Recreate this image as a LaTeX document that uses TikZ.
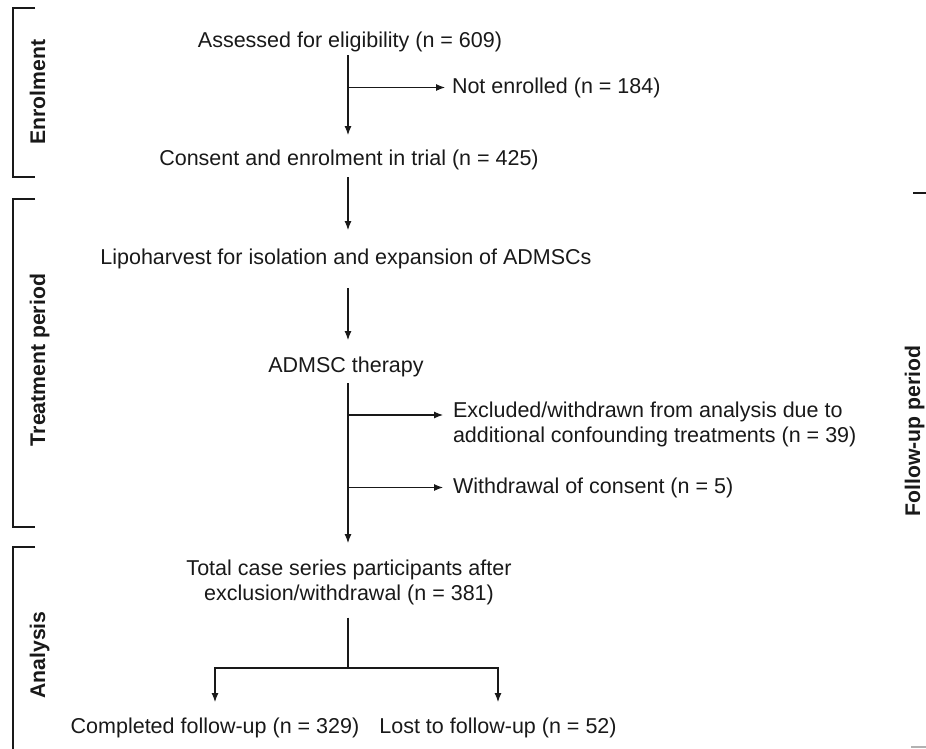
\documentclass[tikz,border=0pt]{standalone}
\usepackage{fontspec}
\setmainfont{Liberation Sans}
\usetikzlibrary{arrows.meta}

\begin{document}
\begin{tikzpicture}
    [
        x=1pt, y=-1pt,
        basic/.style = {inner sep=0pt, outer sep=0pt, text=black!90, font=\fontsize{21.5}{25}\selectfont},
        txt/.style = {basic, text height=15.5pt, text depth=4.5pt},
        phase/.style = {basic, rotate=90, anchor=base, font=\fontsize{21.2}{25}\selectfont\bfseries},
        line/.style = {line width=1.1pt, black!90},
        >={Latex[length=9pt, width=7pt]}
    ]
    \useasboundingbox (0,0) rectangle (926,748);

    \node [txt, anchor=base] (assess) at (350,47) {Assessed for eligibility (n = 609)};
    \node [txt, anchor=base] (consent) at (349,165) {Consent and enrolment in trial (n = 425)};
    \node [txt, anchor=base] (lipo) at (346,264) {Lipoharvest for isolation and expansion of ADMSCs};
    \node [txt, anchor=base] (admsc) at (346,372) {ADMSC therapy};
    \node [basic, align=center, anchor=north] (total) at (349,560) {Total case series participants after\\exclusion/withdrawal (n = 381)};
    \node [txt, anchor=base] (comp) at (215,733) {Completed follow-up (n = 329)};
    \node [txt, anchor=base] (lost) at (498,733) {Lost to follow-up (n = 52)};

    \node [txt, anchor=base west] (notenr) at (452,93) {Not enrolled (n = 184)};
    \node [basic, align=left, anchor=north west] (excl) at (453,402) {Excluded/withdrawn from analysis due to\\additional confounding treatments (n = 39)};
    \node [txt, anchor=base west] (wdraw) at (453,493) {Withdrawal of consent (n = 5)};

    \coordinate (trunk) at (348,0);
    \draw [line, ->, shorten <=3.5pt, shorten >=14.5pt] (assess.south -| trunk) -- (consent.north -| trunk);
    \draw [line, ->, shorten <=7.5pt, shorten >=18.5pt] (consent.south -| trunk) -- (lipo.north -| trunk);
    \draw [line, ->, shorten <=19.5pt, shorten >=16.5pt] (lipo.south -| trunk) -- (admsc.north -| trunk);
    \draw [line, ->, shorten <=6.5pt, shorten >=17pt] (admsc.south -| trunk) -- (total.north -| trunk);

    \coordinate (split) at (348,668);
    \draw [line, shorten <=12.5pt] (total.south -| trunk) -- (split);
    \draw [line, ->, shorten >=15.5pt] (split) -| (comp);
    \draw [line, ->, shorten >=15.5pt] (split) -| (lost);

    \draw [line, ->, shorten >=7pt] (notenr.west -| trunk) -- (notenr.west);
    \coordinate (exclin) at ([yshift=-13pt]excl.north west);
    \draw [line, ->, shorten >=10pt] (exclin -| trunk) -- (exclin);
    \draw [line, ->, shorten >=10pt] (wdraw.west -| trunk) -- (wdraw.west);

    % phase brackets
    \draw [line] (35,8) -- (13,8) -- (13,177) -- (35,177);
    \draw [line] (35,199) -- (13,199) -- (13,527) -- (35,527);
    \draw [line] (35,547) -- (13,547) -- (13,752);
    \draw [line] (913,193) -- (926,193);
    \draw [line, gray!60] (911,747) -- (926,747);

    \node [phase] (enrol) at (45,92) {Enrolment};
    \node [phase] (treat) at (45,360) {Treatment period};
    \node [phase] (analysis) at (45,655) {Analysis};
    \node [phase] (fup) at (920,431) {Follow-up period};

\end{tikzpicture}
\end{document}
